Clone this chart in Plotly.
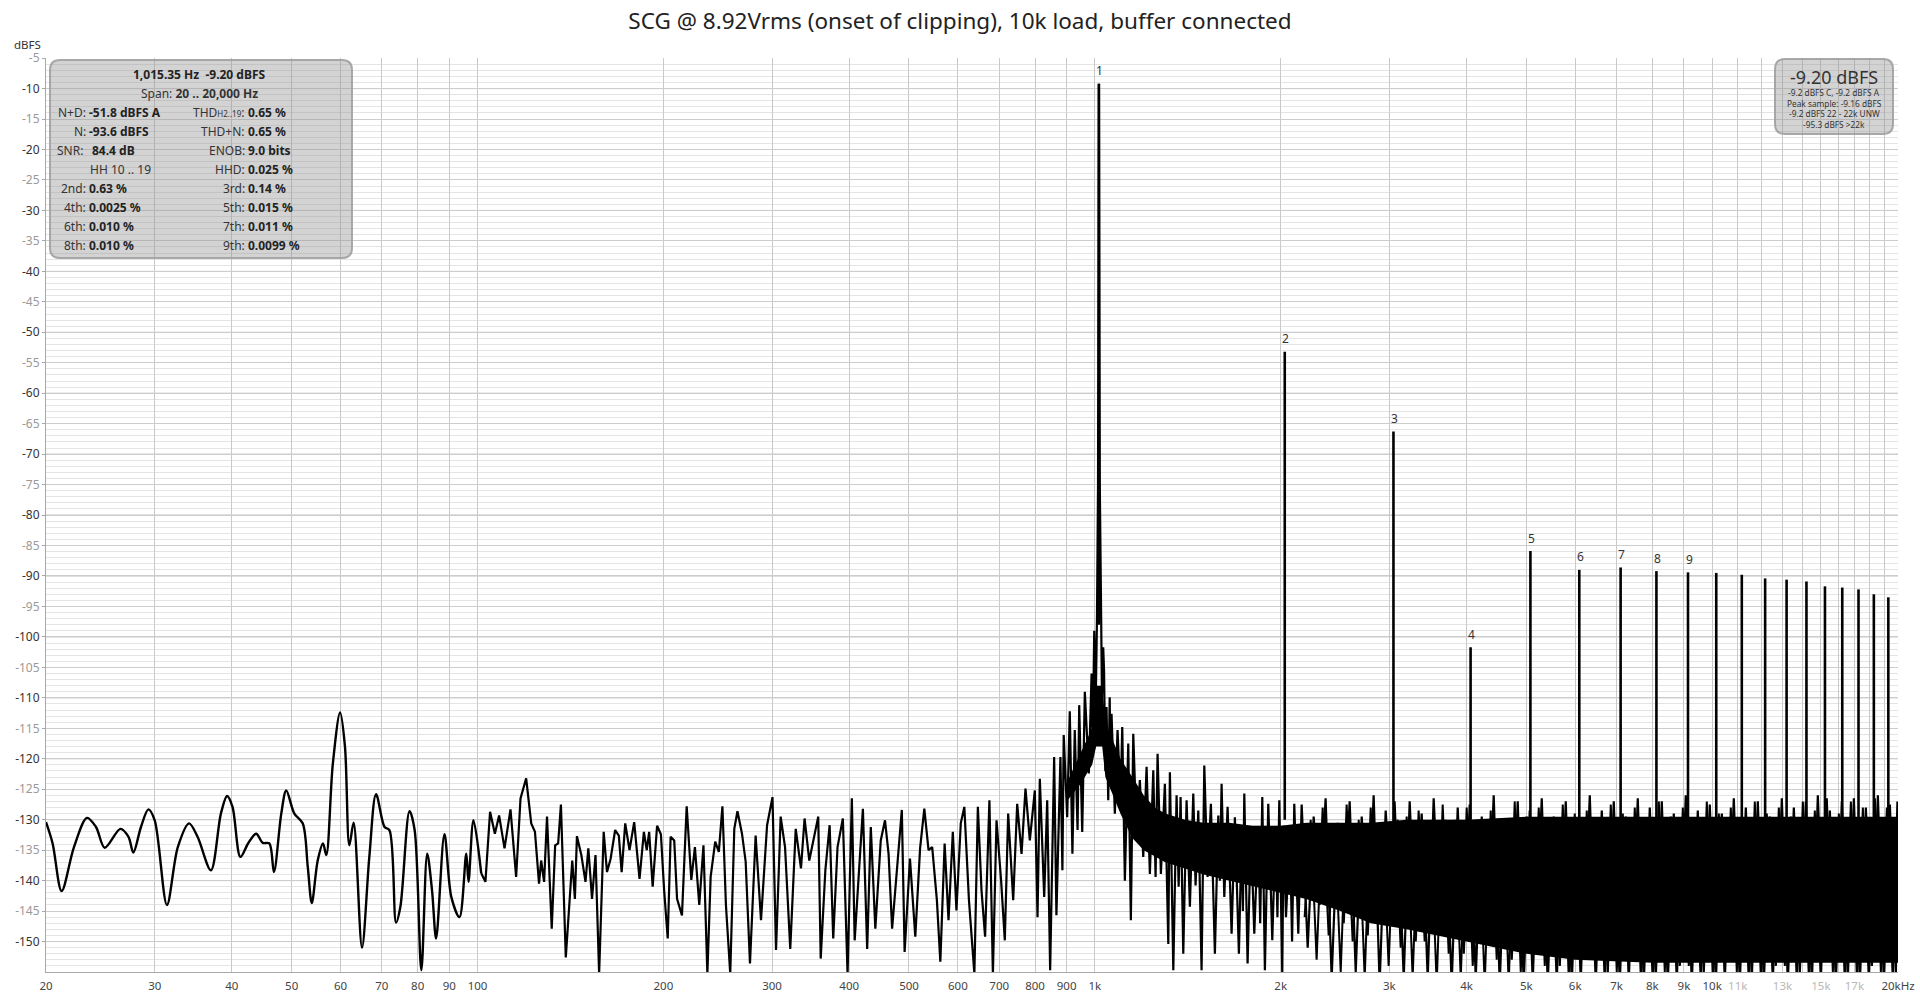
import math
import plotly.graph_objects as go

# ---------------- data ----------------
low_freq = [20.0, 20.5, 21.2, 22.2, 23.3, 24.1, 24.9, 26.4, 27.2, 27.7,
            28.5, 29.3, 30.0, 31.4, 32.7, 34.1, 35.2, 37.0, 38.4, 39.3,
            40.1, 41.3, 42.5, 43.8, 44.9, 46.0, 46.8, 48.1, 49.0, 50.5,
            52.1, 53.1, 53.9, 55.1, 56.2, 56.9, 58.3, 59.9, 61.0, 62.0,
            63.0, 65.0, 66.8, 68.5, 70.7, 72.0, 73.8, 75.0, 77.6, 79.1,
            81.1, 82.9, 84.4, 85.7, 88.4, 90.7, 93.5, 95.9, 96.7, 98.5,
            101.4]
low_db = [-130.4, -133.9, -141.7, -134.5, -129.7, -131.2, -134.6, -131.5, -132.8, -135.4,
          -131.2, -128.3, -130.1, -144.0, -134.5, -130.6, -132.8, -138.3, -129.0, -126.1,
          -127.9, -136.1, -133.9, -132.3, -133.8, -133.9, -138.6, -129.0, -125.2, -129.0,
          -130.6, -137.8, -143.7, -136.7, -133.9, -135.8, -120.8, -112.4, -118.0, -134.2,
          -130.5, -151.0, -136.1, -125.8, -131.2, -131.7, -146.9, -144.3, -128.6, -131.7,
          -154.7, -135.6, -141.6, -149.5, -132.4, -142.7, -146.0, -135.6, -140.2, -130.1,
          -138.8]

mid_freq = [103.0, 104.8, 106.7, 108.4, 110.6, 113.1, 115.5, 117.4, 119.9, 122.2,
            123.9, 125.8, 126.8, 128.2, 129.6, 131.9, 133.6, 135.1, 136.5, 139.0,
            142.4, 143.8, 144.9, 147.3, 149.6, 151.2, 153.3, 155.3, 157.4, 160.1,
            162.1, 164.3, 167.1, 169.4, 171.2, 173.5, 176.3, 179.4, 183.0, 186.0,
            188.0, 189.7, 192.2, 195.4, 198.2, 200.6, 203.3, 205.5, 208.3, 210.5,
            214.4, 218.2, 222.0, 225.0, 228.7, 232.3, 235.7, 238.6, 242.7, 246.0,
            249.3, 252.6, 256.7, 260.6, 263.7, 268.2, 271.9, 276.3, 282.2, 287.9,
            294.5, 300.5, 304.5, 309.8, 314.9, 321.1, 327.7, 334.2, 338.7, 344.7,
            350.2, 356.4, 359.7, 366.0, 371.9, 376.9, 383.0, 390.7, 397.6, 404.0,
            408.3, 415.6, 421.0, 427.8, 433.6, 441.0, 450.0, 457.2, 463.3, 469.5,
            479.1, 486.8, 491.9, 501.8, 511.9, 521.1, 529.4, 537.8, 545.2, 554.8,
            562.0, 571.1, 579.4, 588.8, 596.8, 606.5, 614.6, 625.3, 638.1, 646.4,
            655.3, 664.1, 674.9, 683.7, 693.0, 704.9]
mid_db = [-140.2, -128.7, -132.3, -129.3, -134.7, -128.3, -139.4, -126.5, -123.2, -130.6,
          -132.0, -140.5, -136.7, -140.2, -129.5, -147.9, -134.2, -133.9, -127.5, -152.6,
          -136.7, -143.0, -132.7, -135.8, -140.2, -134.7, -143.0, -135.8, -155.3, -132.0,
          -138.6, -136.4, -131.7, -132.6, -138.6, -130.6, -135.0, -130.4, -139.7, -132.0,
          -135.0, -132.0, -141.0, -131.0, -132.4, -141.6, -149.5, -132.8, -133.4, -143.0,
          -145.7, -127.8, -139.9, -134.5, -144.0, -134.2, -155.3, -139.4, -133.6, -135.3,
          -127.8, -144.0, -155.3, -131.5, -128.6, -132.3, -136.9, -153.6, -132.6, -146.5,
          -130.9, -126.3, -151.4, -129.5, -134.5, -151.2, -131.5, -138.0, -129.8, -136.7,
          -133.4, -129.5, -152.8, -138.3, -130.9, -149.5, -134.5, -129.8, -155.3, -126.5,
          -149.8, -136.7, -128.2, -151.2, -131.2, -147.9, -133.4, -130.1, -135.6, -147.9,
          -136.7, -128.4, -151.7, -136.4, -149.2, -134.7, -128.2, -135.0, -134.5, -143.2,
          -153.3, -133.9, -146.5, -132.0, -144.9, -130.6, -127.9, -143.2, -155.3, -127.9,
          -141.6, -149.2, -126.8, -155.3, -130.1, -139.9]

skirt_freq = [714.8, 723.8, 737.5, 748.6, 760.8, 772.1, 784.7, 799.5, 807.5, 814.5,
              827.9, 837.2, 846.5, 859.2, 866.5, 879.6, 886.1, 890.4, 902.0, 910.8,
              919.8, 927.9, 937.6, 943.4, 954.1, 963.4, 977.9, 987.9, 992.0, 997.8,
              1003.0, 1008.0, 1012.0, 1015.35, 1018.7, 1023.0, 1027.0, 1031.8, 1035.0, 1040.0,
              1044.6, 1051.3, 1057.0, 1060.5, 1064.3, 1077.5, 1088.4, 1100.7, 1107.7, 1118.5,
              1132.8, 1143.8, 1154.1, 1168.4, 1182.9, 1198.0, 1212.9, 1227.9, 1243.6, 1254.3,
              1263.7, 1279.4, 1298.6, 1315.2, 1323.1, 1340.0, 1356.5, 1367.0, 1376.9, 1390.8,
              1408.1, 1425.5, 1443.7, 1456.1, 1470.9, 1489.1, 1504.2, 1522.8, 1541.7, 1564.9,
              1584.9, 1594.0, 1604.5, 1620.8, 1640.8, 1665.5, 1686.1, 1711.5, 1728.8, 1737.0,
              1746.3, 1767.9, 1789.8, 1812.6, 1839.8, 1853.0, 1867.5, 1885.7, 1909.7, 1938.4,
              1962.4, 1976.0, 1989.7, 2012.1, 2022.0, 2040.0, 2070.0, 2087.0, 2104.2, 2135.9]
skirt_db = [-149.8, -129.0, -143.2, -127.4, -135.6, -124.9, -133.4, -125.2, -146.0, -123.3,
            -142.7, -126.8, -154.7, -119.7, -145.7, -119.7, -138.3, -116.1, -129.6, -112.2,
            -135.6, -115.3, -131.7, -111.2, -132.0, -109.0, -122.4, -106.0, -118.0, -99.0,
            -112.0, -97.0, -75.0, -9.2, -75.0, -98.0, -110.0, -101.7, -105.5, -122.0,
            -111.5, -126.8, -109.9, -124.0, -112.6, -129.0, -115.3, -126.8, -114.8, -140.0,
            -117.5, -146.5, -115.9, -132.3, -123.5, -136.1, -121.3, -138.9, -121.9, -139.4,
            -119.2, -138.9, -124.1, -150.4, -122.2, -154.7, -126.0, -141.0, -126.3, -152.0,
            -126.8, -144.3, -125.7, -140.8, -128.5, -154.7, -121.1, -139.4, -127.4, -152.0,
            -129.3, -140.0, -124.1, -142.7, -127.9, -148.7, -129.6, -152.0, -132.3, -145.0,
            -125.7, -153.6, -132.0, -148.7, -131.2, -147.0, -126.3, -154.7, -127.4, -149.8,
            -131.2, -146.0, -126.8, -155.3, -131.0, -146.0, -132.3, -150.0, -127.4, -148.7]

hf_freq = [2163, 2212, 2262, 2313, 2365, 2419, 2474, 2530, 2587, 2646,
           2706, 2767, 2829, 2893, 2959, 3026, 3094, 3165, 3236, 3309,
           3384, 3461, 3539, 3619, 3701, 3785, 3871, 3959, 4048, 4140,
           4234, 4329, 4427, 4528, 4630, 4735, 4842, 4952, 5064, 5179,
           5296, 5416, 5538, 5664, 5792, 5923, 6057, 6194, 6335, 6478,
           6625, 6775, 6928, 7085, 7245, 7409, 7577, 7749, 7924, 8103,
           8287, 8474, 8666, 8863, 9063, 9268, 9478, 9693, 9912, 10137,
           10366, 10601, 10841, 11086, 11337, 11594, 11856, 12125, 12399, 12680,
           12967, 13261, 13561, 13868, 14182, 14503, 14831, 15167, 15511, 15862,
           16221, 16588, 16964, 17348, 17740, 18142, 18553, 18973, 19402, 19842,
           20000]
hf_db = [-127.5, -151, -129.5, -144, -126.5, -156, -130.5, -147, -127, -155,
         -129.5, -149, -126, -157, -128.5, -145, -130, -156, -127, -150,
         -129, -156, -126.5, -148, -130, -157, -128, -152, -127.5, -156,
         -129.5, -150, -126, -157, -130, -153, -127, -157, -128.5, -151,
         -126.5, -157, -129.5, -154, -127, -157, -130, -152, -126, -157,
         -128.5, -155, -127, -157, -129.5, -153, -126.5, -157, -128, -156,
         -127, -157, -129, -154, -126, -157, -128.5, -155, -127.5, -157,
         -129, -153, -126.5, -157, -128, -156, -127, -157, -129.5, -154,
         -126.5, -157, -128, -155, -127, -157, -126, -153, -128.5, -157,
         -127, -156, -126.5, -157, -128, -154, -126, -157, -127.5, -155,
         -130]

hf2_freq = [2187, 2237, 2287, 2339, 2392, 2446, 2502, 2558, 2616, 2676,
            2736, 2798, 2861, 2926, 2992, 3060, 3129, 3200, 3272, 3346,
            3422, 3500, 3579, 3660, 3743, 3828, 3915, 4003, 4094, 4187,
            4281, 4378, 4477, 4579, 4682, 4788, 4897, 5008, 5121, 5237,
            5356, 5477, 5601, 5728, 5857, 5990, 6125, 6264, 6406, 6551,
            6700, 6851, 7006, 7165, 7327, 7493, 7663, 7836, 8013, 8195,
            8380, 8570, 8764, 8963, 9165, 9372, 9585, 9802, 10024, 10251,
            10483, 10720, 10963, 11211, 11465, 11724, 11990, 12261, 12539, 12823,
            13113, 13410, 13714, 14024, 14342, 14666, 14998, 15338, 15686, 16041,
            16404, 16775, 17155, 17543, 17940, 18346, 18762, 19186, 19621, 19950]
hf2_db = [-146, -130, -153, -128, -149, -131, -155, -127.5, -150, -130,
          -156, -128, -147, -131, -154, -127, -151, -129.5, -156, -128.5,
          -150, -131, -157, -127.5, -152, -130, -156, -128, -154, -131,
          -157, -128.5, -153, -130, -157, -127, -155, -129.5, -157, -128,
          -154, -131, -157, -127.5, -156, -129, -157, -128.5, -153, -130.5,
          -157, -127.5, -155, -129, -157, -128, -156, -130, -157, -127,
          -155, -129.5, -157, -128, -154, -130.5, -157, -127, -156, -129,
          -157, -128, -155, -130, -157, -127, -156, -129, -157, -128,
          -154, -129.5, -157, -127, -156, -128.5, -157, -126.5, -155, -129,
          -157, -127, -156, -128, -157, -126.5, -155, -128, -157, -127]

band_freq = [900, 950, 990, 1005, 1028, 1040, 1070, 1100, 1150, 1200,
             1250, 1300, 1400, 1500, 1650, 1800, 2000, 2200, 2500, 2800,
             3200, 3600, 4000, 5000, 6000, 8000, 10000, 13000, 16000, 20000]
band_top = [-124, -119, -115, -108, -108, -114, -117, -120, -123, -126,
            -128, -129, -130, -130.5, -130.5, -131, -131, -130.5, -130.5, -130.5,
            -130, -130, -130, -129.5, -129.5, -129.5, -129.5, -129.5, -129.5, -129.5]
band_bot = [-127, -124, -121, -118, -118, -123, -126, -129, -133, -135,
            -136, -137, -138, -139, -140, -141, -142, -143, -145, -147,
            -148, -149, -150, -152, -153, -153.5, -153.5, -153.5, -153.5, -153.5]

harm_freq = [1015.35, 2030.7, 3046.05, 4061.4, 5076.75, 6092.1, 7107.45, 8122.8, 9138.15,
             10153.5, 11168.85, 12184.2, 13199.55, 14214.9, 15230.25, 16245.6, 17260.95,
             18276.3, 19291.65]
harm_db = [-9.2, -53.2, -66.3, -101.7, -85.9, -89.0, -88.6, -89.2, -89.4,
           -89.5, -89.8, -90.4, -90.6, -90.9, -91.7, -91.9, -92.2, -93.0, -93.5]
harm_floor = [-98, -130, -131, -130, -130, -130, -130, -130, -130,
              -130, -130, -130, -130, -130, -130, -130, -130, -130, -130]
harm_labels = ["1", "2", "3", "4", "5", "6", "7", "8", "9"]

x_tick_vals = [20, 30, 40, 50, 60, 70, 80, 90, 100, 200, 300, 400, 500, 600, 700, 800, 900,
               1000, 2000, 3000, 4000, 5000, 6000, 7000, 8000, 9000, 10000,
               11000, 12000, 13000, 14000, 15000, 16000, 17000, 18000, 19000, 20000]
x_tick_labels = ["20", "30", "40", "50", "60", "70", "80", "90", "100", "200", "300", "400",
                 "500", "600", "700", "800", "900", "1k", "2k", "3k", "4k", "5k", "6k", "7k",
                 "8k", "9k", "10k", "11k", "", "13k", "", "15k", "", "17k", "", "", "20kHz"]
x_faint_labels = ["11k", "13k", "15k", "17k"]
y_tick_vals = [-150, -145, -140, -135, -130, -125, -120, -115, -110, -105, -100, -95, -90,
               -85, -80, -75, -70, -65, -60, -55, -50, -45, -40, -35, -30, -25, -20, -15,
               -10, -5]

title_text = "SCG @ 8.92Vrms (onset of clipping), 10k load, buffer connected"

# ---------------- layout helpers ----------------
FW, FH = 1920, 997
ML, MR, MT, MB = 46, 22, 58, 25
PW = FW - ML - MR
PH = FH - MT - MB
FONT = "Noto Sans"


def px(x):
    return (x - ML) / PW


def py(y):
    return (FH - MB - y) / PH


def rounded(x0, y0, x1, y1, r):
    pts = [
        ("M", (x0 + r, y0)), ("L", (x1 - r, y0)), ("Q", (x1, y0), (x1, y0 + r)),
        ("L", (x1, y1 - r)), ("Q", (x1, y1), (x1 - r, y1)), ("L", (x0 + r, y1)),
        ("Q", (x0, y1), (x0, y1 - r)), ("L", (x0, y0 + r)), ("Q", (x0, y0), (x0 + r, y0)),
    ]
    s = ""
    for item in pts:
        s += item[0] + " " + " ".join("%.5f,%.5f" % (px(a), py(b)) for a, b in item[1:]) + " "
    return s + "Z"


fig = go.Figure()

# dense noise band (solid region of the FFT floor)
fig.add_trace(go.Scatter(
    x=band_freq + band_freq[::-1], y=band_top + band_bot[::-1],
    fill="toself", fillcolor="black", mode="lines",
    line=dict(width=0, color="black"), hoverinfo="skip"))

# low-frequency smooth part
fig.add_trace(go.Scatter(
    x=low_freq, y=low_db, mode="lines",
    line=dict(color="black", width=2.4, shape="spline", smoothing=0.9),
    hoverinfo="skip"))

# rest of spectrum
main_x = low_freq[-1:] + mid_freq + skirt_freq + hf_freq
main_y = low_db[-1:] + mid_db + skirt_db + hf_db
fig.add_trace(go.Scatter(
    x=main_x, y=main_y, mode="lines",
    line=dict(color="black", width=2.2), hoverinfo="skip"))

# interleaved bins of the high-frequency floor
fig.add_trace(go.Scatter(
    x=hf2_freq, y=hf2_db, mode="lines",
    line=dict(color="black", width=2.0), hoverinfo="skip"))

# harmonic lines
hx, hy = [], []
for f, v, fl in zip(harm_freq, harm_db, harm_floor):
    hx += [f, f, None]
    hy += [fl, v, None]
fig.add_trace(go.Scatter(x=hx, y=hy, mode="lines",
                         line=dict(color="black", width=2.6), hoverinfo="skip"))

annotations = []
for lab, f, v in zip(harm_labels, harm_freq, harm_db):
    annotations.append(dict(x=math.log10(f), y=v, xref="x", yref="y", text=lab,
                            showarrow=False, yshift=13, xshift=1, yanchor="middle",
                            font=dict(family=FONT, size=12, color="#333")))

# y axis title
annotations.append(dict(x=px(27), y=py(45), xref="paper", yref="paper", text="dBFS",
                        showarrow=False, xanchor="center", yanchor="middle",
                        font=dict(family=FONT, size=11.5, color="#333")))

# ---- info boxes ----
shapes = []
BOX_FILL = "rgba(150,150,150,0.42)"
BOX_LINE = "rgba(160,160,160,0.9)"
shapes.append(dict(type="path", path=rounded(50, 60, 352, 258, 10), xref="paper", yref="paper",
                   fillcolor=BOX_FILL, line=dict(color=BOX_LINE, width=2), layer="above"))
shapes.append(dict(type="path", path=rounded(1775, 59, 1893, 134, 10), xref="paper", yref="paper",
                   fillcolor=BOX_FILL, line=dict(color=BOX_LINE, width=2), layer="above"))


def txt(x, y, s, anchor="center", size=12, color="#222"):
    annotations.append(dict(x=px(x), y=py(y), xref="paper", yref="paper", text=s,
                            showarrow=False, xanchor=anchor, yanchor="middle",
                            font=dict(family=FONT, size=size, color=color)))


row_y = [74.3, 94.0, 112.7, 131.7, 150.3, 169.3, 188.7, 207.3, 226.7, 245.7]
txt(199, row_y[0], "<b>1,015.35 Hz  -9.20 dBFS</b>")
txt(199, row_y[1], "Span: <b>20 .. 20,000 Hz</b>", color="#333")

left_rows = [("N+D:", "-51.8 dBFS A"), ("N:", "-93.6 dBFS"), ("SNR:", "84.4 dB"),
             (None, "HH 10 .. 19"), ("2nd:", "0.63 %"), ("4th:", "0.0025 %"),
             ("6th:", "0.010 %"), ("8th:", "0.010 %")]
right_rows = [("THD<span style='font-size:8px'>H2..19</span>:", "0.65 %"), ("THD+N:", "0.65 %"),
              ("ENOB:", "9.0 bits"), ("HHD:", "0.025 %"), ("3rd:", "0.14 %"),
              ("5th:", "0.015 %"), ("7th:", "0.011 %"), ("9th:", "0.0099 %")]
for i, (lab, val) in enumerate(left_rows):
    y = row_y[i + 2]
    if lab is None:
        txt(88, y, val, anchor="left", color="#333")
    elif lab == "SNR:":
        txt(85, y, lab, anchor="right", color="#333")
        txt(89.5, y, "<b>" + val + "</b>", anchor="left")
    else:
        txt(87.5, y, lab, anchor="right", color="#333")
        txt(86.5, y, "<b>" + val + "</b>", anchor="left")
for i, (lab, val) in enumerate(right_rows):
    y = row_y[i + 2]
    txt(246.5, y, lab, anchor="right", color="#333")
    txt(245.5, y, "<b>" + val + "</b>", anchor="left")

txt(1834, 76.5, "-9.20 dBFS", size=18, color="#333")
txt(1834, 92.5, "-9.2 dBFS C, -9.2 dBFS A", size=8.3, color="#333")
txt(1834, 103.2, "Peak sample: -9.16 dBFS", size=8.3, color="#333")
txt(1834, 113.9, "-9.2 dBFS 22 - 22k UNW", size=8.3, color="#333")
txt(1834, 124.6, "-95.3 dBFS &gt;22k", size=8.3, color="#333")

# darker decade lines
for dec in [100, 1000, 10000]:
    shapes.append(dict(type="line", xref="x", yref="paper", x0=math.log10(dec), x1=math.log10(dec),
                       y0=0, y1=1, line=dict(color="#8f8f8f", width=1), layer="below"))
# 10 dB lines a bit darker
for v in y_tick_vals:
    if v % 10 == 0:
        shapes.append(dict(type="line", xref="paper", yref="y", x0=0, x1=1, y0=v, y1=v,
                           line=dict(color="#bdbdbd", width=1), layer="below"))

x_text = [("<span style='color:#b8b8b8'>%s</span>" % t) if t in x_faint_labels else t
          for t in x_tick_labels]
y_text = [("<span style='color:#333'>%d</span>" % v) if v % 10 == 0
          else ("<span style='color:#9a9a9a'>%d</span>" % v) for v in y_tick_vals]

fig.update_layout(
    width=FW, height=FH,
    margin=dict(l=ML, r=MR, t=MT, b=MB, pad=0, autoexpand=False),
    paper_bgcolor="white", plot_bgcolor="white",
    showlegend=False,
    title=dict(text=title_text, x=0.5, xanchor="center", xref="container",
               y=1 - 21 / FH, yanchor="middle", yref="container",
               font=dict(family=FONT, size=22.5, color="#222")),
    xaxis=dict(type="log", range=[math.log10(20), math.log10(20000)],
               tickmode="array", tickvals=x_tick_vals, ticktext=x_text, tickangle=0,
               showgrid=True, gridcolor="#c9c9c9", gridwidth=1,
               showline=True, linecolor="#a8a8a8", linewidth=1, mirror=False,
               ticks="", zeroline=False, automargin=False, ticklabelstandoff=3,
               tickfont=dict(family=FONT, size=11.5, color="#444")),
    yaxis=dict(range=[-155, -4.98], tickmode="array", tickvals=y_tick_vals, ticktext=y_text,
               showgrid=True, gridcolor="#cdcdcd", gridwidth=1,
               minor=dict(tickmode="linear", tick0=0, dtick=1, showgrid=True,
                          gridcolor="#e4e4e4", gridwidth=1),
               showline=True, linecolor="#a8a8a8", linewidth=1,
               ticks="outside", ticklen=3, tickcolor="#a8a8a8", zeroline=False,
               automargin=False,
               tickfont=dict(family=FONT, size=12, color="#333")),
    shapes=shapes,
    annotations=annotations,
)

fig.write_html("out.html", config={"displayModeBar": False},
               post_script="document.body.style.margin='0';document.body.style.overflow='hidden';")
